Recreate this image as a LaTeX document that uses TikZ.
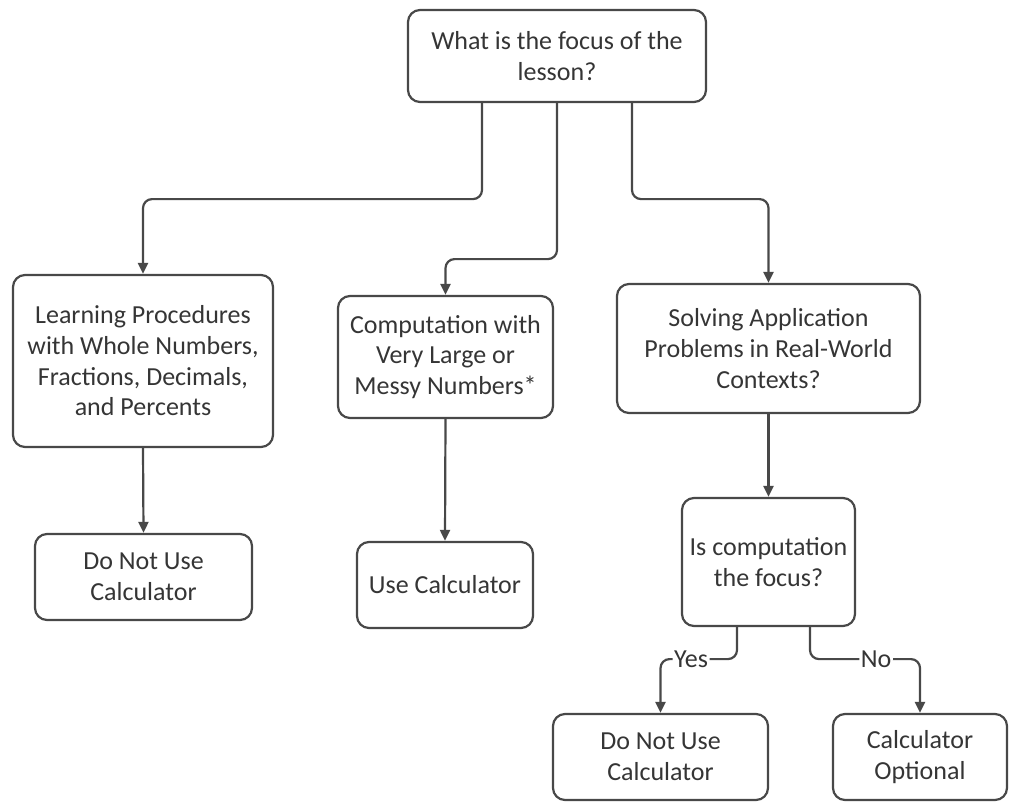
\documentclass[tikz,border=0pt]{standalone}
\usepackage{fontspec}
\setmainfont{Carlito}
\usetikzlibrary{arrows.meta}
\definecolor{linec}{HTML}{484848}
\definecolor{textc}{HTML}{353535}
\begin{document}
\begin{tikzpicture}[x=1pt,y=-1pt,
  box/.style={draw=linec, line width=2.2pt, rounded corners=12pt, align=center,
    text=textc, font=\fontsize{26}{30.7}\selectfont, inner sep=0pt},
  conn/.style={draw=linec, line width=2.2pt, rounded corners=9pt,
    -{Triangle[length=11pt,width=10pt]}},
  lab/.style={fill=white, inner sep=1.5pt, text=textc, font=\fontsize{26}{30.7}\selectfont}]
\useasboundingbox (0,0) rectangle (1010,803);
\node[box, minimum width=298pt, minimum height=92pt] (top) at (557,56) {What is the focus of the\\lesson?};
\node[box, minimum width=260pt, minimum height=172pt] (learn) at (143,361) {Learning Procedures\\with Whole Numbers,\\Fractions, Decimals,\\and Percents};
\node[box, minimum width=217pt, minimum height=86pt] (dnu1) at (143.5,577) {Do Not Use\\Calculator};
\node[box, minimum width=215pt, minimum height=122pt] (comp) at (445.5,357) {Computation with\\Very Large or\\Messy Numbers*};
\node[box, minimum width=176pt, minimum height=86pt] (use) at (445,585) {Use Calculator};
\node[box, minimum width=303pt, minimum height=129pt] (solve) at (768.5,348.5) {Solving Application\\Problems in Real-World\\Contexts?};
\node[box, minimum width=173pt, minimum height=128pt] (isc) at (768.5,562) {Is computation\\the focus?};
\node[box, minimum width=215pt, minimum height=86pt] (dnu2) at (660.5,757) {Do Not Use\\Calculator};
\node[box, minimum width=174pt, minimum height=86pt] (opt) at (920,757) {Calculator\\Optional};

\draw[conn] ([xshift=-75pt]top.south) -- ++(0,96) -| (learn.north);
\draw[conn] (top.south) -- ++(0,156) -| (comp.north);
\draw[conn] ([xshift=75pt]top.south) -- ++(0,96) -| (solve.north);
\draw[conn] (learn.south) -- (dnu1.north);
\draw[conn] (comp.south) -- (use.north);
\draw[conn] (solve.south) -- (isc.north);
\draw[conn] ([xshift=-31.5pt]isc.south) -- ++(0,32) -| node[lab, pos=0.3] {Yes} (dnu2.north);
\draw[conn] ([xshift=41.5pt]isc.south) -- ++(0,32) -| node[lab, pos=0.3] {No} (opt.north);
\end{tikzpicture}
\end{document}
